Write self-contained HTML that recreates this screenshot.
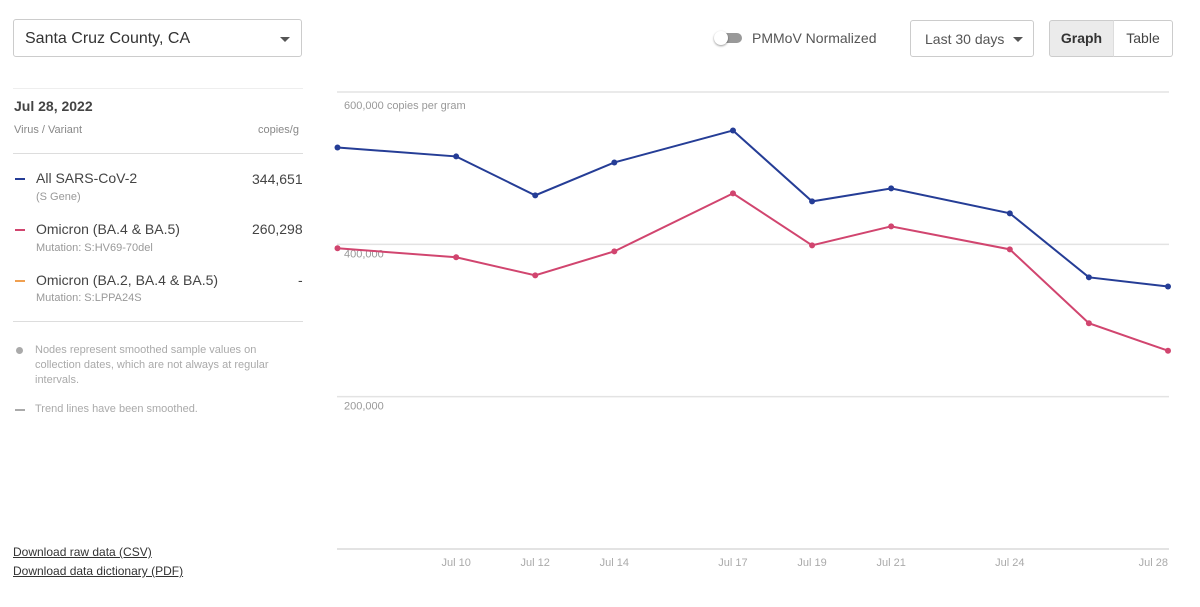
<!DOCTYPE html>
<html><head><meta charset="utf-8"><style>
body{margin:0;width:1200px;height:607px;background:#fff;font-family:"Liberation Sans",sans-serif;color:#333;position:relative;overflow:hidden}
.abs{position:absolute}
.sel{left:13px;top:19px;width:289px;height:38px;border:1px solid #ccc;border-radius:3px;box-sizing:border-box;font-size:16px;padding:10px 11px;color:#333}
.caret{width:0;height:0;border-left:5px solid transparent;border-right:5px solid transparent;border-top:5px solid #555}
.row-t{font-size:14px;color:#444}
.row-s{font-size:11px;color:#999}
.dash{width:10px;height:2px}
.note{font-size:11px;color:#aaa;line-height:15px}
.link{font-size:12px;color:#333;text-decoration:underline}
</style></head><body>
<div class="abs sel">Santa Cruz County, CA<div class="abs caret" style="left:266px;top:17px"></div></div>

<div class="abs" style="left:716px;top:33px;width:26px;height:10px;border-radius:5px;background:#999"></div>
<div class="abs" style="left:714px;top:31px;width:14px;height:14px;border-radius:7px;background:#fff;box-shadow:0 1px 2px rgba(0,0,0,.4)"></div>
<div class="abs" style="left:752px;top:30px;font-size:14px;color:#555">PMMoV Normalized</div>
<div class="abs" style="left:910px;top:20px;width:124px;height:37px;border:1px solid #ccc;border-radius:3px;box-sizing:border-box;font-size:14px;color:#555;padding:10px 14px">Last 30 days<div class="abs caret" style="left:102px;top:16px"></div></div>
<div class="abs" style="left:1049px;top:20px;width:65px;height:37px;border:1px solid #ccc;border-radius:3px 0 0 3px;box-sizing:border-box;background:#ebebeb;font-size:14px;font-weight:bold;color:#333;text-align:center;line-height:35px">Graph</div>
<div class="abs" style="left:1113px;top:20px;width:60px;height:37px;border:1px solid #ccc;border-left:1px solid #ddd;border-radius:0 3px 3px 0;box-sizing:border-box;font-size:14px;color:#444;text-align:center;line-height:35px">Table</div>

<div class="abs" style="left:13px;top:88px;width:290px;height:1px;background:#eee"></div>
<div class="abs" style="left:14px;top:98px;font-size:14px;font-weight:bold;color:#444">Jul 28, 2022</div>
<div class="abs row-s" style="left:14px;top:124px;color:#888">Virus / Variant</div>
<div class="abs row-s" style="left:258px;top:124px;color:#888">copies/g</div>
<div class="abs" style="left:13px;top:153px;width:290px;height:1px;background:#ddd"></div>

<div class="abs dash" style="left:15px;top:178px;background:#253d96"></div>
<div class="abs row-t" style="left:36px;top:170px">All SARS-CoV-2</div>
<div class="abs row-s" style="left:36px;top:191px">(S Gene)</div>
<div class="abs row-t" style="left:252px;top:171px">344,651</div>

<div class="abs dash" style="left:15px;top:229px;background:#d1456f"></div>
<div class="abs row-t" style="left:36px;top:221px">Omicron (BA.4 &amp; BA.5)</div>
<div class="abs row-s" style="left:36px;top:242px">Mutation: S:HV69-70del</div>
<div class="abs row-t" style="left:252px;top:221px">260,298</div>

<div class="abs dash" style="left:15px;top:280px;background:#f0a050"></div>
<div class="abs row-t" style="left:36px;top:272px">Omicron (BA.2, BA.4 &amp; BA.5)</div>
<div class="abs row-s" style="left:36px;top:292px">Mutation: S:LPPA24S</div>
<div class="abs row-t" style="left:298px;top:272px">-</div>
<div class="abs" style="left:13px;top:321px;width:290px;height:1px;background:#ddd"></div>

<div class="abs" style="left:16px;top:347px;width:7px;height:7px;border-radius:4px;background:#aaa"></div>
<div class="abs note" style="left:35px;top:343px;width:260px">Nodes represent smoothed sample values on collection dates, which are not always at regular intervals.</div>
<div class="abs" style="left:15px;top:409px;width:10px;height:2px;background:#aaa"></div>
<div class="abs note" style="left:35px;top:402px">Trend lines have been smoothed.</div>

<div class="abs link" style="left:13px;top:545px">Download raw data (CSV)</div>
<div class="abs link" style="left:13px;top:564px">Download data dictionary (PDF)</div>

<svg class="abs" style="left:0;top:0" width="1200" height="607" id="chart"></svg>
<script>
const days=[7,10,12,14,17,19,21,24,26,28];
const allSars=[527200,515400,464300,507500,549500,456400,473400,440700,356700,344651];
const omicron45=[394800,383000,359300,390800,466900,398700,423600,393400,296400,260298];
const yTicks=[0,200000,400000,600000];
const yLabels=["","200,000","400,000","600,000 copies per gram"];
const xTickDays=[10,12,14,17,19,21,24,28];
const xTickLabels=["Jul 10","Jul 12","Jul 14","Jul 17","Jul 19","Jul 21","Jul 24","Jul 28"];
const NS="http://www.w3.org/2000/svg";
const svg=document.getElementById('chart');
const x=d=>337.5+(d-7)*(1168-337.5)/21;
const y=v=>549-v*(549-92)/600000;
function el(t,a){const e=document.createElementNS(NS,t);for(const k in a)e.setAttribute(k,a[k]);svg.appendChild(e);return e;}
yTicks.forEach((v,i)=>{
  const l=el('line',{x1:337,x2:1169,y1:y(v),y2:y(v),stroke:'#e3e3e3','stroke-width':v===0?2:1.5});
  
  
  if(yLabels[i]){const t=el('text',{x:344,y:y(v)+(v===600000?17:13),'font-size':11,fill:'#999','font-family':'Liberation Sans, sans-serif'});t.textContent=yLabels[i];
  
  }
});
xTickDays.forEach((d,i)=>{
  const last=i===xTickDays.length-1;
  const t=el('text',{x:last?x(d):x(d),y:566,'font-size':11,fill:'#aaa','text-anchor':last?'end':'middle','font-family':'Liberation Sans Narrow, Liberation Sans, sans-serif'});
  t.textContent=xTickLabels[i];
  
  
});
function series(vals,color,name){
  const p=el('polyline',{points:vals.map((v,i)=>x(days[i])+','+y(v)).join(' '),fill:'none',stroke:color,'stroke-width':2});
  
  
  vals.forEach((v,i)=>{const c=el('circle',{cx:x(days[i]),cy:y(v),r:3,fill:color});
  
  });
}
series(omicron45,'#d1456f','omicron-ba45');
series(allSars,'#253d96','all-sars');
</script>
</body></html>
